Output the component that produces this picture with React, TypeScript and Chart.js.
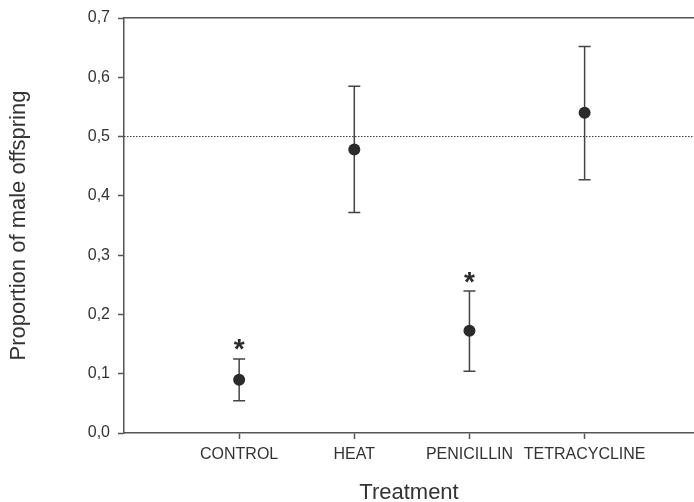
import React, { useEffect, useRef } from "react";
import { Chart, registerables } from "chart.js";

Chart.register(...registerables);

const categories = ["CONTROL", "HEAT", "PENICILLIN", "TETRACYCLINE"];
const means = [0.09, 0.478, 0.1725, 0.54];
const upper = [0.125, 0.585, 0.2395, 0.652];
const lower = [0.0545, 0.372, 0.104, 0.427];
const significant = [true, false, true, false];
const yTickLabels = ["0,0", "0,1", "0,2", "0,3", "0,4", "0,5", "0,6", "0,7"];
const referenceValue = 0.5;
const xMin = 0;
const xMax = 4.95;

const FONT = "'Liberation Sans', Arial, sans-serif";
const DARK = "#2b2b2b";
const AXIS = "#555555";

const errorBarPlugin = {
  id: "errorBars",
  afterDatasetsDraw(chart: any) {
    const { ctx, scales } = chart;
    const xs = scales.x;
    const ys = scales.y;
    ctx.save();
    // error bars
    ctx.strokeStyle = "#444444";
    ctx.lineWidth = 1.5;
    categories.forEach((_, i) => {
      const px = xs.getPixelForValue(i + 1);
      const pu = ys.getPixelForValue(upper[i]);
      const pl = ys.getPixelForValue(lower[i]);
      ctx.beginPath();
      ctx.moveTo(px, pu);
      ctx.lineTo(px, pl);
      ctx.moveTo(px - 6, pu);
      ctx.lineTo(px + 6, pu);
      ctx.moveTo(px - 6, pl);
      ctx.lineTo(px + 6, pl);
      ctx.stroke();
    });
    // points on top
    ctx.fillStyle = DARK;
    categories.forEach((_, i) => {
      const px = xs.getPixelForValue(i + 1);
      const py = ys.getPixelForValue(means[i]);
      ctx.beginPath();
      ctx.arc(px, py, 6, 0, Math.PI * 2);
      ctx.fill();
    });
    // asterisks
    ctx.font = `bold 28px ${FONT}`;
    ctx.textAlign = "center";
    ctx.textBaseline = "alphabetic";
    const m = ctx.measureText("*");
    const asc = m.actualBoundingBoxAscent;
    const desc = m.actualBoundingBoxDescent;
    categories.forEach((_, i) => {
      if (!significant[i]) return;
      const px = xs.getPixelForValue(i + 1);
      const pu = ys.getPixelForValue(upper[i]);
      const cy = pu - 14;
      const baseline = cy + (asc - desc) / 2;
      ctx.fillText("*", px, baseline);
    });
    ctx.restore();
  },
};

export default function App() {
  const ref = useRef<HTMLCanvasElement | null>(null);

  useEffect(() => {
    if (!ref.current) return;
    const chart = new Chart(ref.current, {
      type: "scatter",
      data: {
        datasets: [
          {
            label: "reference",
            data: [
              { x: xMin, y: referenceValue },
              { x: xMax, y: referenceValue },
            ],
            showLine: true,
            borderColor: "#333333",
            borderWidth: 1,
            borderDash: [1.5, 1.5],
            pointRadius: 0,
          },
          {
            label: "means",
            data: categories.map((_, i) => ({ x: i + 1, y: means[i] })),
            pointRadius: 0,
            backgroundColor: DARK,
            borderColor: DARK,
          },
        ],
      },
      plugins: [errorBarPlugin],
      options: {
        responsive: false,
        animation: false,
        layout: { padding: { top: 18, right: 0, bottom: 0, left: 0 } },
        plugins: {
          legend: { display: false },
          tooltip: { enabled: false },
        },
        scales: {
          x: {
            type: "linear",
            position: "bottom",
            min: xMin,
            max: xMax,
            afterBuildTicks: (scale: any) => {
              scale.ticks = categories.map((_, i) => ({ value: i + 1 }));
            },
            afterFit: (scale: any) => {
              scale.height = 69;
            },
            ticks: {
              autoSkip: false,
              maxRotation: 0,
              padding: 6,
              color: "#333333",
              font: { family: FONT, size: 16 },
              callback: (v: any) => categories[Math.round(Number(v)) - 1] ?? "",
            },
            grid: {
              drawOnChartArea: false,
              drawTicks: true,
              tickLength: 6,
              tickColor: AXIS,
              tickWidth: 1.5,
            },
            border: { display: true, color: AXIS, width: 1.5 },
            title: {
              display: true,
              text: "Treatment",
              color: "#333333",
              font: { family: FONT, size: 22, lineHeight: 0.8 },
              padding: { top: 0, bottom: 0 },
            },
          },
          x2: {
            type: "linear",
            axis: "x",
            position: "top",
            min: xMin,
            max: xMax,
            afterFit: (scale: any) => {
              scale.height = 0;
            },
            ticks: { display: false },
            grid: { display: false, drawTicks: false },
            border: { display: true, color: AXIS, width: 1.5 },
          },
          y: {
            type: "linear",
            min: 0,
            max: 0.7,
            afterBuildTicks: (scale: any) => {
              scale.ticks = yTickLabels.map((_, i) => ({ value: i / 10 }));
            },
            afterFit: (scale: any) => {
              scale.width = 124;
            },
            ticks: {
              padding: 8,
              color: "#333333",
              font: { family: FONT, size: 16 },
              callback: (_v: any, i: number) => yTickLabels[i],
            },
            grid: {
              drawOnChartArea: false,
              drawTicks: true,
              tickLength: 6,
              tickColor: AXIS,
              tickWidth: 1.5,
            },
            border: { display: true, color: AXIS, width: 1.5 },
            title: {
              display: true,
              text: "Proportion of male offspring",
              color: "#333333",
              font: { family: FONT, size: 22, lineHeight: 0.8 },
              padding: { top: 10, bottom: 0 },
            },
          },
        },
      },
    } as any);
    return () => chart.destroy();
  }, []);

  return (
    <div style={{ position: "fixed", left: 0, top: 0, width: 694, height: 502, background: "#fff" }}>
      <canvas ref={ref} width={694} height={502} style={{ display: "block" }} />
    </div>
  );
}
